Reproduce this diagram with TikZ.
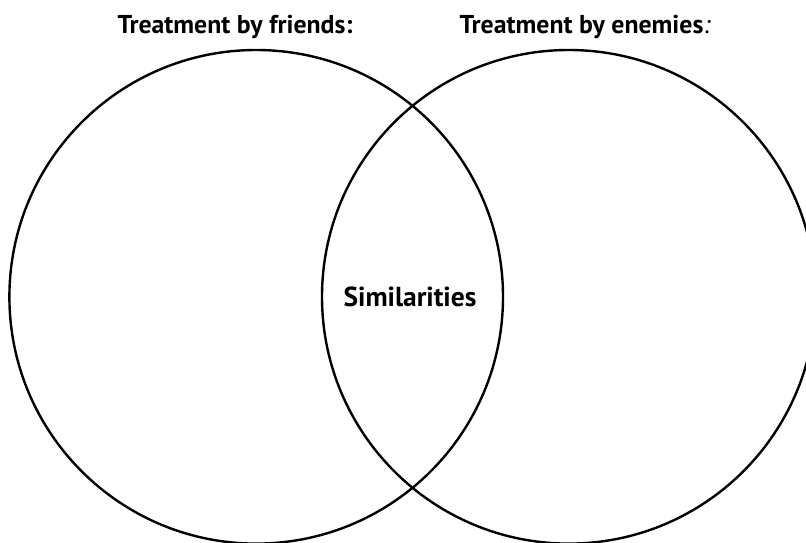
\documentclass[tikz,border=0pt]{standalone}
\usepackage{fontspec}
\setmainfont{PT Sans}
\begin{document}
\begin{tikzpicture}[x=1pt,y=1pt,
  venn/.style={draw=black, line width=2.4pt, circle, inner sep=0pt, minimum size=493.6pt},
  label/.style={font=\bfseries\fontsize{25.8}{28}\selectfont, inner sep=0pt, anchor=base}]
\useasboundingbox (0,0) rectangle (806,-542);
\clip (0,0) rectangle (806,-542);
\fill[white] (0,0) rectangle (806,-542);
\node[venn] (L) at (256.2,-296.8) {};
\node[venn] (R) at (568.8,-296.8) {};
\node[label] (tf) at (235,-33) {Treatment by friends:};
\node[label] (te) at (585,-33) {Treatment by enemies{\mdseries\itshape :}};
\node[label, font=\bfseries\fontsize{27.5}{30}\selectfont] (sim) at (410,-306) {Similarities};
\end{tikzpicture}
\end{document}
